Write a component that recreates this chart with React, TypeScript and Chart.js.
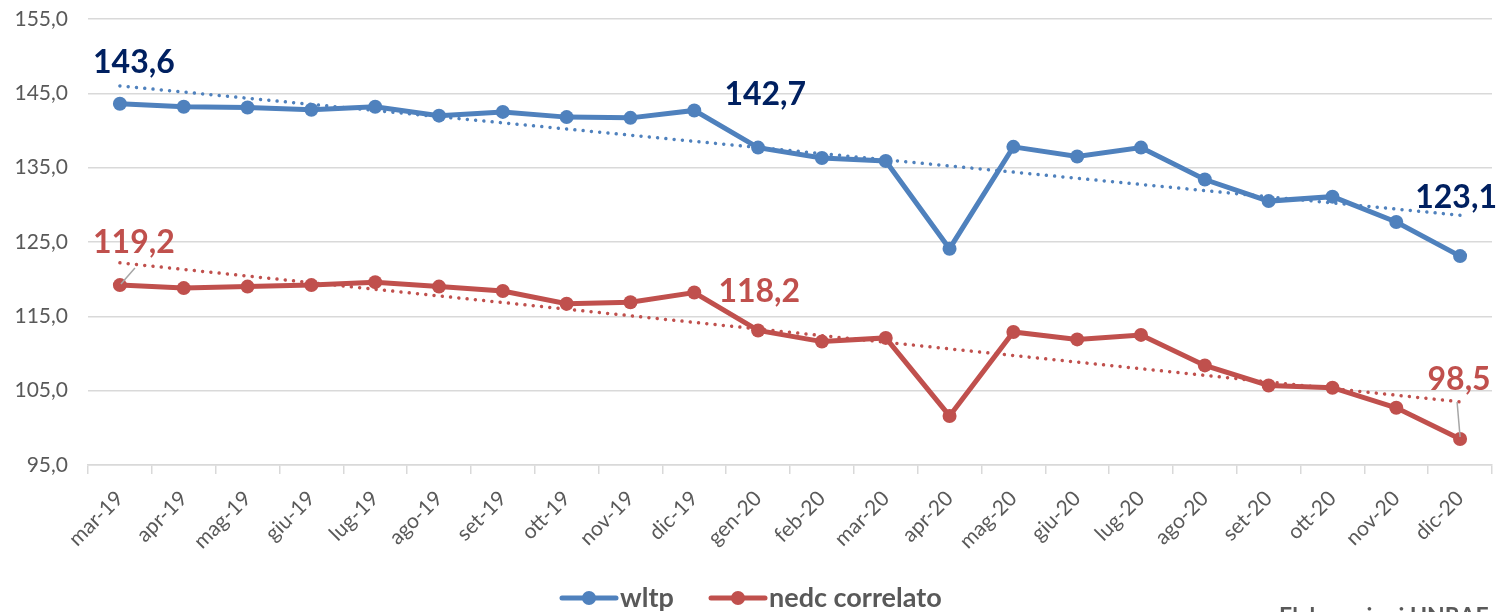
import React, { useEffect, useRef } from 'react';
import { Chart, registerables } from 'chart.js';

Chart.register(...registerables);

const categories = [
  'mar-19', 'apr-19', 'mag-19', 'giu-19', 'lug-19', 'ago-19', 'set-19', 'ott-19', 'nov-19', 'dic-19',
  'gen-20', 'feb-20', 'mar-20', 'apr-20', 'mag-20', 'giu-20', 'lug-20', 'ago-20', 'set-20', 'ott-20', 'nov-20', 'dic-20',
];

const wltp = [143.6, 143.2, 143.1, 142.8, 143.2, 142.0, 142.5, 141.8, 141.7, 142.7, 137.7, 136.3, 135.9, 124.1, 137.8, 136.5, 137.7, 133.4, 130.5, 131.1, 127.7, 123.1];
const nedc = [119.2, 118.8, 119.0, 119.2, 119.6, 119.0, 118.4, 116.7, 116.9, 118.2, 113.1, 111.6, 112.1, 101.6, 112.9, 111.9, 112.5, 108.4, 105.7, 105.4, 102.7, 98.5];

// trendline end values (first and last category)
const wltpTrendEnds = [146.0, 128.6];
const nedcTrendEnds = [122.2, 103.5];

const yTicks = [95, 105, 115, 125, 135, 145, 155];

const BLUE = '#4F81BD';
const RED = '#C0504D';
const NAVY = '#002060';
const GRAY = '#595959';
const GRID = '#d9d9d9';
const FONT = 'Lato, "Open Sans", sans-serif';

// annotated points: dataset index, point index, offset, colour, weight, leader line
const annotations = [
  { ds: 0, i: 0, dx: 14, dy: -41, color: NAVY, weight: 'bold', leader: null },
  { ds: 0, i: 9, dx: 71, dy: -16, color: NAVY, weight: 'bold', leader: null },
  { ds: 0, i: 21, dx: -4, dy: -58, color: NAVY, weight: 'bold', leader: null },
  { ds: 1, i: 0, dx: 14, dy: -42, color: RED, weight: 'bold', leader: [1, -1, 15, -17] },
  { ds: 1, i: 9, dx: 65, dy: -1, color: RED, weight: 'bold', leader: null },
  { ds: 1, i: 21, dx: -1, dy: -59, color: RED, weight: 'bold', leader: [-3, -37, 0, -2] },
];

const fmt = (v: number) => v.toFixed(1).replace('.', ',');

const overlayPlugin = {
  id: 'overlay',
  afterDatasetsDraw(chart: any) {
    const ctx = chart.ctx;
    ctx.save();
    for (const a of annotations) {
      const meta = chart.getDatasetMeta(a.ds);
      const pt = meta.data[a.i];
      const value = chart.data.datasets[a.ds].data[a.i] as number;
      if (a.leader) {
        ctx.strokeStyle = '#a6a6a6';
        ctx.lineWidth = 1.5;
        ctx.beginPath();
        ctx.moveTo(pt.x + a.leader[0], pt.y + a.leader[1]);
        ctx.lineTo(pt.x + a.leader[2], pt.y + a.leader[3]);
        ctx.stroke();
      }
      ctx.fillStyle = a.color;
      ctx.font = `${a.weight} 32px ${FONT}`;
      ctx.textAlign = 'center';
      ctx.textBaseline = 'middle';
      ctx.fillText(fmt(value), pt.x + a.dx, pt.y + a.dy);
    }
    ctx.restore();
  },
  afterDraw(chart: any) {
    const ctx = chart.ctx;
    ctx.save();
    const y = 598;
    const items = [
      { label: chart.data.datasets[0].label, color: BLUE, x: 562 },
      { label: chart.data.datasets[1].label, color: RED, x: 711 },
    ];
    for (const it of items) {
      ctx.strokeStyle = it.color;
      ctx.lineWidth = 5;
      ctx.lineCap = 'round';
      ctx.beginPath();
      ctx.moveTo(it.x, y);
      ctx.lineTo(it.x + 54, y);
      ctx.stroke();
      ctx.fillStyle = it.color;
      ctx.beginPath();
      ctx.arc(it.x + 27, y, 7, 0, Math.PI * 2);
      ctx.fill();
      ctx.fillStyle = GRAY;
      ctx.font = `bold 27px ${FONT}`;
      ctx.textAlign = 'left';
      ctx.textBaseline = 'alphabetic';
      ctx.fillText(it.label, it.x + 58, 607);
    }
    ctx.font = `bold 23px ${FONT}`;
    ctx.textBaseline = 'alphabetic';
    ctx.fillText('Elaborazioni UNRAE', 1279, 624);
    ctx.restore();
  },
};

export default function App() {
  const ref = useRef<HTMLCanvasElement>(null);

  useEffect(() => {
    const last = categories.length - 1;
    const trend = (ends: number[]) => categories.map((_, i) => (i === 0 ? ends[0] : i === last ? ends[1] : null));
    const chart = new Chart(ref.current as HTMLCanvasElement, {
      type: 'line',
      data: {
        labels: categories,
        datasets: [
          {
            label: 'wltp',
            data: wltp,
            borderColor: BLUE,
            backgroundColor: BLUE,
            borderWidth: 5,
            pointRadius: 7,
            pointBorderWidth: 0,
            pointBackgroundColor: BLUE,
            tension: 0,
            order: 2,
          },
          {
            label: 'nedc correlato',
            data: nedc,
            borderColor: RED,
            backgroundColor: RED,
            borderWidth: 5,
            pointRadius: 7,
            pointBorderWidth: 0,
            pointBackgroundColor: RED,
            tension: 0,
            order: 2,
          },
          {
            label: 'Lineare (wltp)',
            data: trend(wltpTrendEnds),
            borderColor: BLUE,
            borderWidth: 3.5,
            borderDash: [0.01, 8.3],
            borderCapStyle: 'round',
            pointRadius: 0,
            spanGaps: true,
            order: 1,
          },
          {
            label: 'Lineare (nedc correlato)',
            data: trend(nedcTrendEnds),
            borderColor: RED,
            borderWidth: 3.5,
            borderDash: [0.01, 8.3],
            borderCapStyle: 'round',
            pointRadius: 0,
            spanGaps: true,
            order: 1,
          },
        ] as any,
      },
      options: {
        responsive: false,
        animation: false,
        layout: { padding: { top: 19, right: 9, left: 0, bottom: 0 } },
        plugins: {
          legend: { display: false },
          tooltip: { enabled: false },
          title: { display: false },
        },
        scales: {
          x: {
            offset: true,
            afterFit: (s: any) => {
              s.height = 147;
              s.paddingLeft = 0;
              s.paddingRight = 0;
            },
            grid: {
              drawOnChartArea: false,
              drawTicks: true,
              tickLength: 9,
              color: GRID,
              lineWidth: 1.5,
              offset: true,
            },
            border: { color: GRID, width: 1.5 },
            ticks: {
              autoSkip: false,
              minRotation: 45,
              maxRotation: 45,
              color: GRAY,
              font: { family: FONT, size: 21 },
              padding: 12,
            },
          },
          y: {
            min: 95,
            max: 155,
            afterFit: (s: any) => {
              s.width = 88;
              s.paddingTop = 0;
              s.paddingBottom = 0;
            },
            afterBuildTicks: (s: any) => {
              s.ticks = yTicks.map((v) => ({ value: v }));
            },
            grid: { color: GRID, lineWidth: 1.5, drawTicks: false },
            border: { display: false },
            ticks: {
              color: GRAY,
              font: { family: FONT, size: 21 },
              padding: 20,
              callback: (v: any) => fmt(Number(v)),
            },
          },
        },
      },
      plugins: [overlayPlugin],
    });
    return () => chart.destroy();
  }, []);

  return (
    <div style={{ position: 'fixed', left: 0, top: 0, width: 1501, height: 612, background: '#fff' }}>
      <canvas ref={ref} width={1501} height={612} style={{ display: 'block' }} />
    </div>
  );
}
